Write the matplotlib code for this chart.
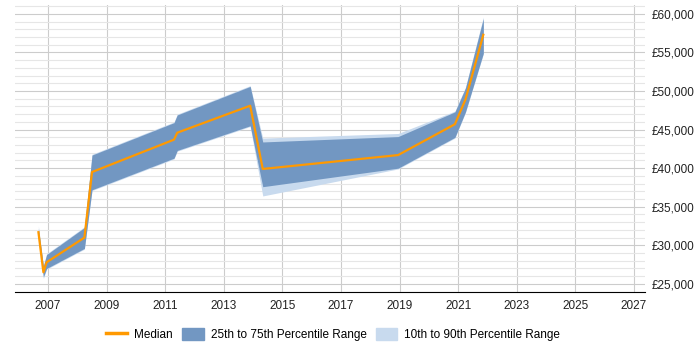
import matplotlib

matplotlib.use("Agg")
import matplotlib.pyplot as plt
from matplotlib.lines import Line2D
from matplotlib.patches import Patch
from matplotlib.ticker import FuncFormatter, MultipleLocator

# decimal years of each data point
years = [2006.67, 2006.84, 2006.95, 2008.24, 2008.5, 2011.3, 2011.41, 2013.9, 2014.33, 2018.95, 2020.89, 2021.25, 2021.86]
median = [31700, 26500, 27800, 31000, 39500, 43700, 44600, 48100, 39900, 41700, 45700, 48900, 57300]
p75 = [32200, 27300, 28800, 32300, 41700, 45900, 46900, 50600, 43400, 44100, 47300, 50400, 59400]
p25 = [31400, 25900, 27000, 29600, 37200, 41300, 42300, 45500, 37600, 40000, 44000, 47300, 54900]
p90 = [32500, 27400, 28900, 32400, 41800, 46000, 47000, 50700, 43900, 44500, 47400, 50500, 59600]
p10 = [31300, 25700, 26900, 29500, 37100, 41200, 42200, 45400, 36400, 39900, 43900, 47200, 54800]
xticks = list(range(2007, 2028, 2))

ORANGE, DARK, LIGHT = "#ff9900", "#7297c2", "#c8daee"
plt.rcParams["font.family"] = ["Liberation Sans", "DejaVu Sans"]

fig = plt.figure(figsize=(7, 3.5), dpi=100)
ax = fig.add_axes([0.0214, 0.166, 0.8996, 0.82])

ax.fill_between(years, p10, p90, color=LIGHT, lw=0)
ax.fill_between(years, p25, p75, color=DARK, lw=0)
ax.plot(years, median, color=ORANGE, lw=1.6)

ax.set_xlim(2005.87, 2027.37)
ax.set_ylim(23960, 61170)
ax.set_xticks(xticks)
ax.yaxis.set_major_locator(MultipleLocator(5000))
ax.yaxis.set_minor_locator(MultipleLocator(1000))
ax.yaxis.set_major_formatter(FuncFormatter(lambda v, p: f"£{v:,.0f}"))
ax.yaxis.tick_right()
ax.tick_params(axis="both", length=0, labelsize=8.5, colors="#222222")
ax.tick_params(axis="y", which="minor", length=0)
ax.tick_params(axis="y", pad=5)
ax.tick_params(axis="x", pad=6)

ax.grid(which="major", color="#cccccc", lw=0.8)
ax.grid(which="minor", axis="y", color="#e6e6e6", lw=0.8)
ax.set_axisbelow(True)
for s in ("top", "right", "left"):
    ax.spines[s].set_visible(False)
ax.spines["bottom"].set_color("#000000")

handles = [Line2D([], [], color=ORANGE, lw=2.5),
           Patch(color=DARK), Patch(color=LIGHT)]
labels = ["Median", "25th to 75th Percentile Range", "10th to 90th Percentile Range"]
fig.legend(handles, labels, loc="center", bbox_to_anchor=(0.476, 0.045), ncol=3, frameon=False,
           fontsize=8.5, handlelength=1.8, handleheight=1.3, columnspacing=0.8, handletextpad=0.6)

fig.savefig("out.png", dpi=100)
